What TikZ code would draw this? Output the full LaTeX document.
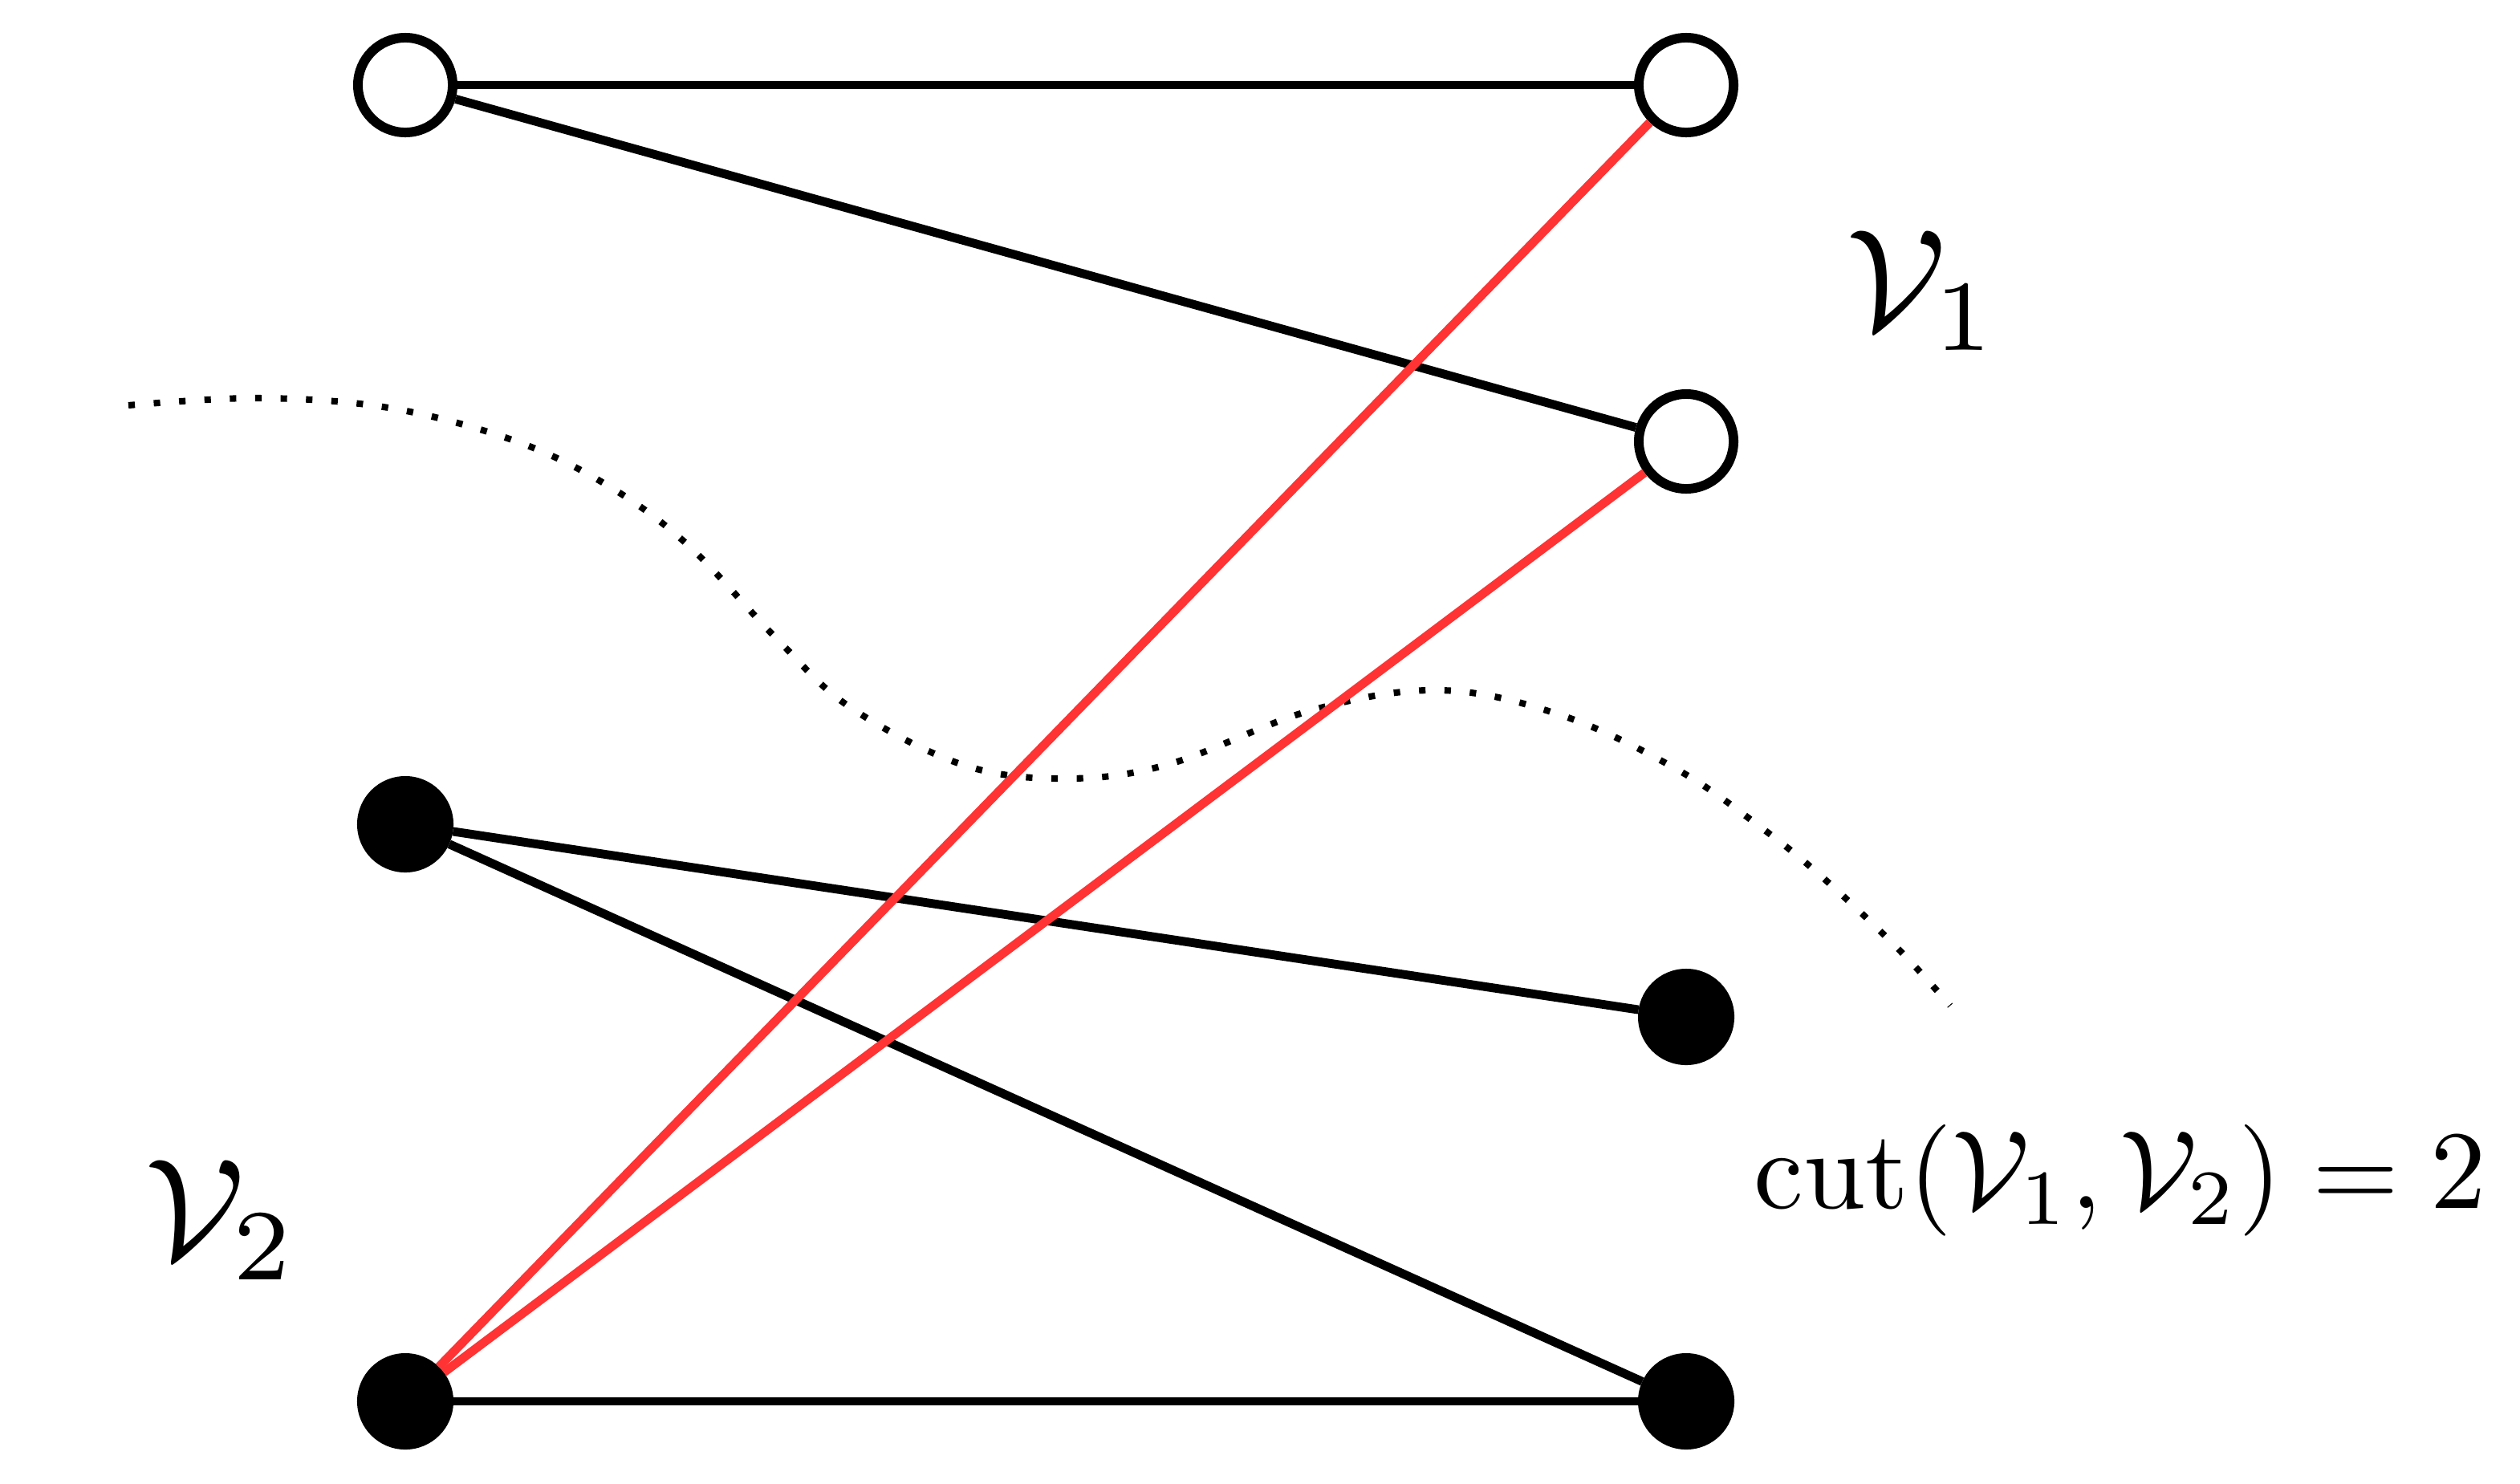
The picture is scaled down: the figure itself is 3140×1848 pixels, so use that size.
\documentclass[tikz,border=0pt]{standalone}
\begin{document}
\begin{tikzpicture}[x=0.01cm,y=-0.01cm,
  opennode/.style={circle,draw=black,fill=white,line width=3.4pt,minimum size=1.18cm,inner sep=0pt},
  fullnode/.style={circle,fill=black,draw=none,minimum size=1.2cm,inner sep=0pt,outer sep=0pt},
  blackedge/.style={line width=3.1pt,black},
  rededge/.style={line width=3.1pt,red!80},
  cutline/.style={line width=2.3pt,dash pattern=on 2.3pt off 6.7pt},
  textlabel/.style={inner sep=0pt}]
\useasboundingbox (0,0) rectangle (3140,1848);
% dotted cut curve
\draw[cutline] plot[smooth,tension=0.6] coordinates {(160,505) (322,496) (484,508) (638,548) (754,603) (856,678) (968,796) (1059,881) (1200,953) (1329,970) (1457,952) (1634,885) (1795,860) (1948,892) (2092,960) (2197,1033) (2273,1095) (2366,1183) (2430,1253)};
% nodes
\node[opennode] (a1) at (505,106) {};
\node[opennode] (b1) at (2101,106) {};
\node[opennode] (b2) at (2101,550) {};
\node[fullnode] (a2) at (505,1027) {};
\node[fullnode] (b3) at (2101,1267) {};
\node[fullnode] (a3) at (505,1746) {};
\node[fullnode] (b4) at (2101,1746) {};
% edges
\draw[blackedge] (a1) -- (b1);
\draw[blackedge] (a1) -- (b2);
\draw[blackedge] (a2) -- (b3);
\draw[blackedge] (a2) -- (b4);
\draw[blackedge] (a3) -- (b4);
\draw[rededge] (a3) -- (b1);
\draw[rededge] (a3) -- (b2);
% labels
\node[textlabel,anchor=base west] (l1) at (2300,410) {\scalebox{5.1}{$\mathcal{V}_1$}};
\node[textlabel,anchor=base west] (l2) at (180,1568) {\scalebox{5.1}{$\mathcal{V}_2$}};
\node[textlabel,anchor=base west] (l3) at (2185,1505) {\scalebox{3.95}{$\mathrm{cut}(\mathcal{V}_1,\mathcal{V}_2)=2$}};
\end{tikzpicture}
\end{document}
